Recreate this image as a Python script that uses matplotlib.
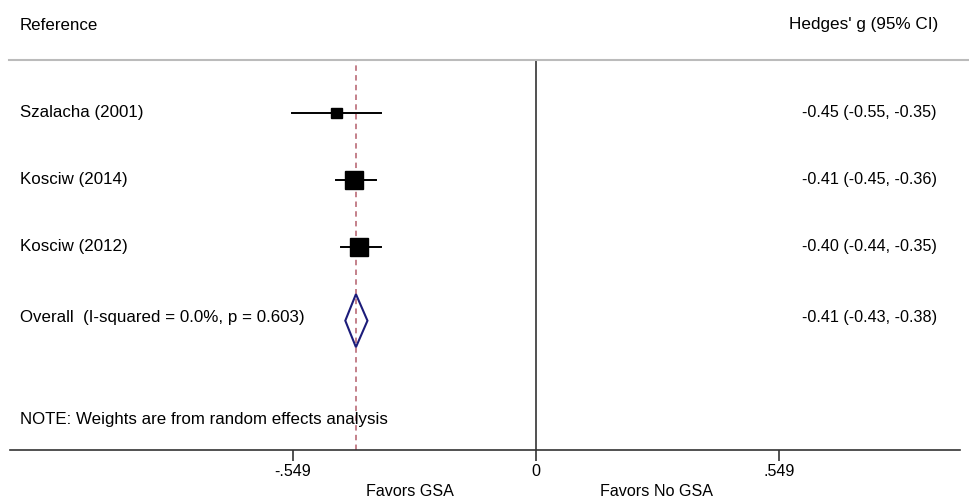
import matplotlib.pyplot as plt
import matplotlib
from matplotlib.patches import Polygon, Rectangle
import numpy as np

matplotlib.rcParams["font.family"] = ["Liberation Sans", "DejaVu Sans"]

# Study data
studies = ["Szalacha (2001)", "Kosciw (2014)", "Kosciw (2012)"]
effect = [-0.45, -0.41, -0.40]
ci_low = [-0.55, -0.45, -0.44]
ci_high = [-0.35, -0.36, -0.35]
weights = [14.0, 44.0, 42.0]

overall_label = "Overall  (I-squared = 0.0%, p = 0.603)"
overall_es = -0.406
overall_lo = -0.43
overall_hi = -0.38

tick_vals = [-0.549, 0, 0.549]
tick_labels = ["-.549", "0", ".549"]

fig = plt.figure(figsize=(9.7, 5.01), dpi=100)
W, H = 970, 501
ax = fig.add_axes([10 / W, 1 - 450 / H, 950 / W, 390 / H])

px_per_unit = 443.5
x0_px = 536 - 10
xmin = -x0_px / px_per_unit
ax.set_xlim(xmin, (950 - x0_px) / px_per_unit)
ax.set_ylim(-1.03, 4.79)

rows = [4, 3, 2]
fs_left = 12.2
fs_right = 11.6
x_left = xmin + 10 / px_per_unit
x_right = (927 - x0_px) / px_per_unit

# reference lines
ax.axvline(0, color="#333333", lw=1.2, zorder=1)
ax.axvline(overall_es, color="#c4808a", lw=1.4, ls=(0, (2.8, 2.2)), zorder=2)

# studies
for y, name, es, lo, hi, w in zip(rows, studies, effect, ci_low, ci_high, weights):
    ax.plot([lo, hi], [y, y], color="black", lw=1.4, zorder=3)
    side_px = 18.5 * np.sqrt(w / max(weights))
    sx = side_px / px_per_unit
    sy = side_px / 67.0
    ax.add_patch(Rectangle((es - sx / 2, y - sy / 2), sx, sy, color="black", zorder=4))
    ax.text(x_left, y, name, ha="left", va="center", fontsize=fs_left)
    ax.text(x_right, y, f"{es:.2f} ({lo:.2f}, {hi:.2f})",
            ha="right", va="center", fontsize=fs_right)

# overall diamond
yo = 0.9
dh = 26.5 / 67.0
diamond = Polygon([[overall_lo, yo], [overall_es, yo + dh], [overall_hi, yo], [overall_es, yo - dh]],
                  closed=True, fill=False, edgecolor="#1c1c7a", lw=1.5, zorder=4)
ax.add_patch(diamond)
ax.text(x_left, yo + 0.04, overall_label, ha="left", va="center", fontsize=fs_left)
ax.text(x_right, yo + 0.04, f"{overall_es:.2f} ({overall_lo:.2f}, {overall_hi:.2f})",
        ha="right", va="center", fontsize=fs_right)

ax.text(x_left, -0.57, "NOTE: Weights are from random effects analysis",
        ha="left", va="center", fontsize=fs_left)

# axes styling
for s in ["top", "right", "left"]:
    ax.spines[s].set_visible(False)
ax.spines["bottom"].set_color("#333333")
ax.spines["bottom"].set_linewidth(1.2)
ax.set_yticks([])
ax.set_xticks(tick_vals)
ax.set_xticklabels(tick_labels, fontsize=fs_right)
ax.tick_params(axis="x", length=8, width=1.2, color="#333333", pad=2)

# top rule
fig.add_artist(plt.Line2D([9 / W, 1.0], [1 - 60 / H, 1 - 60 / H], color="#bbbbbb", lw=1.5))

# headers
fig.text(20 / W, 1 - 25 / H, "Reference", ha="left", va="center", fontsize=fs_left)
fig.text(938 / W, 1 - 25 / H, "Hedges' g (95% CI)", ha="right", va="center", fontsize=12.3)

# favors labels
fig.text(410 / W, 1 - 492 / H, "Favors GSA", ha="center", va="center", fontsize=fs_right)
fig.text(657 / W, 1 - 492 / H, "Favors No GSA", ha="center", va="center", fontsize=fs_right)

plt.savefig("out.png", dpi=100, facecolor="white")
plt.close()
